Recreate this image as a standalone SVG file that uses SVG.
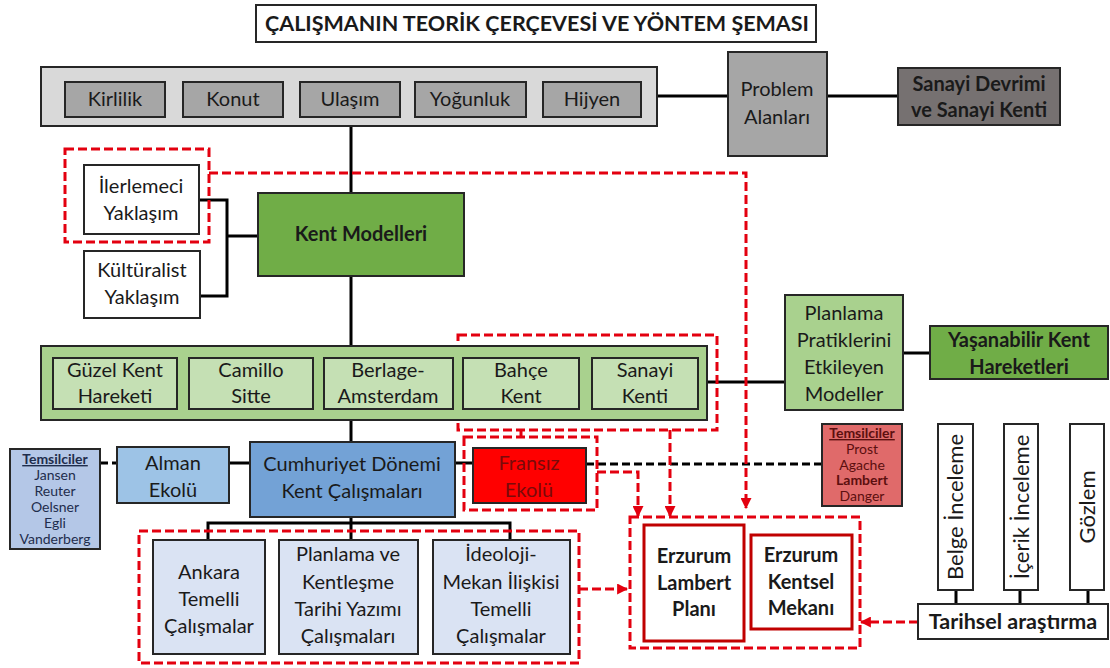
<svg xmlns="http://www.w3.org/2000/svg" width="1110" height="668" viewBox="0 0 1110 668">
<style>
text{font-family:Lato,"Open Sans","Liberation Sans",sans-serif;text-anchor:middle;fill:#1a1a1a}
.t{font-size:20px}
.v{font-size:22px}
.b{font-weight:bold}
.box{stroke:#262626;stroke-width:2}
.ln{stroke:#000;stroke-width:3;fill:none}
.bd{stroke:#000;stroke-width:3;fill:none;stroke-dasharray:8 4}
.rd{stroke:#e3000f;stroke-width:3;fill:none;stroke-dasharray:9 4}
.sm{font-size:14px}
</style>
<defs>
<marker id="ar" viewBox="0 0 10 10" refX="9" refY="5" markerWidth="11" markerHeight="11" markerUnits="userSpaceOnUse" orient="auto">
<path d="M0,0 L10,5 L0,10 z" fill="#e3000f"/>
</marker>
</defs>
<rect width="1110" height="668" fill="#fff"/>

<g id="title">
<rect x="256" y="5" width="560" height="37" fill="#fff" class="box"/>
<text x="537" y="31" class="b" style="font-size:21.5px">ÇALIŞMANIN TEORİK ÇERÇEVESİ VE YÖNTEM ŞEMASI</text>
</g>

<g id="connectors">
<path class="ln" d="M657,96 H728 M827,96 H898"/>
<path class="ln" d="M351,126 V193 M351,276 V346 M351,420 V442 M351,517 V540 M208,540 V523 H510 V540"/>
<path class="ln" d="M199,200 H227 V296 H200 M227,236 H258"/>
<path class="ln" d="M707,382 H785 M903,353 H930"/>
<path class="ln" d="M229,463 H250 M455,463 H473"/>
<path class="bd" d="M100,463 H117"/>
<path class="bd" d="M586,464 H822"/>
<path class="ln" d="M956,590 V604 M1020,590 V604 M1088,590 V604"/>
<rect class="rd" x="65" y="149" width="144" height="93"/>
<path class="rd" d="M209,173 H746 V508" marker-end="url(#ar)"/>
<rect class="rd" x="458" y="335" width="259" height="95"/>
<path class="rd" d="M521,430 V437"/>
<rect class="rd" x="464" y="437" width="133" height="73"/>
<path class="rd" d="M597,472 H638 V516" marker-end="url(#ar)"/>
<path class="rd" d="M670,430 V516" marker-end="url(#ar)"/>
<rect class="rd" x="630" y="517" width="230" height="131"/>
<rect class="rd" x="139" y="531" width="440" height="132"/>
<path class="rd" d="M579,589 H627" marker-end="url(#ar)"/>
<path class="rd" d="M918,622 H861" marker-end="url(#ar)"/>
</g>

<g id="problem-strip">
<rect x="41" y="67" width="616" height="59" fill="#d9d9d9" class="box"/>
</g>
<g id="kirlilik"><rect x="65" y="82" width="100" height="35" fill="#a6a6a6" class="box"/><text x="115" y="106" class="t">Kirlilik</text></g>
<g id="konut"><rect x="183" y="82" width="100" height="35" fill="#a6a6a6" class="box"/><text x="233" y="106" class="t">Konut</text></g>
<g id="ulasim"><rect x="300" y="82" width="100" height="35" fill="#a6a6a6" class="box"/><text x="350" y="106" class="t">Ulaşım</text></g>
<g id="yogunluk"><rect x="415" y="82" width="111" height="35" fill="#a6a6a6" class="box"/><text x="470" y="106" class="t">Yoğunluk</text></g>
<g id="hijyen"><rect x="543" y="82" width="98" height="35" fill="#a6a6a6" class="box"/><text x="592" y="106" class="t">Hijyen</text></g>

<g id="problem-alanlari"><rect x="728" y="52" width="99" height="104" fill="#a6a6a6" class="box"/><text x="777" y="96" class="t">Problem</text><text x="777" y="124" class="t">Alanları</text></g>
<g id="sanayi-devrimi"><rect x="898" y="68" width="162" height="57" fill="#767171" class="box"/><text x="979" y="91" class="t b">Sanayi Devrimi</text><text x="979" y="117" class="t b">ve Sanayi Kenti</text></g>

<g id="ilerlemeci"><rect x="84" y="165" width="115" height="69" fill="#fff" class="box"/><text x="141" y="193" class="t">İlerlemeci</text><text x="141" y="220" class="t">Yaklaşım</text></g>
<g id="kulturalist"><rect x="84" y="251" width="116" height="67" fill="#fff" class="box"/><text x="142" y="277" class="t">Kültüralist</text><text x="142" y="304" class="t">Yaklaşım</text></g>
<g id="kent-modelleri"><rect x="258" y="193" width="206" height="83" fill="#70ad47" class="box"/><text x="361" y="241" class="t b">Kent Modelleri</text></g>

<g id="model-strip"><rect x="41" y="346" width="666" height="74" fill="#a9d18e" class="box"/></g>
<g id="guzel-kent"><rect x="53" y="358" width="124" height="51" fill="#c5e0b4" class="box"/><text x="115" y="377" class="t">Güzel Kent</text><text x="115" y="403" class="t">Hareketi</text></g>
<g id="camillo"><rect x="189" y="358" width="124" height="51" fill="#c5e0b4" class="box"/><text x="251" y="377" class="t">Camillo</text><text x="251" y="403" class="t">Sitte</text></g>
<g id="berlage"><rect x="324" y="358" width="129" height="51" fill="#c5e0b4" class="box"/><text x="388" y="377" class="t">Berlage-</text><text x="388" y="403" class="t">Amsterdam</text></g>
<g id="bahce"><rect x="463" y="358" width="116" height="51" fill="#c5e0b4" class="box"/><text x="521" y="377" class="t">Bahçe</text><text x="521" y="403" class="t">Kent</text></g>
<g id="sanayi-kenti"><rect x="592" y="358" width="106" height="51" fill="#c5e0b4" class="box"/><text x="645" y="377" class="t">Sanayi</text><text x="645" y="403" class="t">Kenti</text></g>

<g id="planlama-pratikleri"><rect x="785" y="295" width="118" height="115" fill="#a9d18e" class="box"/><text x="844" y="320" class="t">Planlama</text><text x="844" y="347" class="t">Pratiklerini</text><text x="844" y="374" class="t">Etkileyen</text><text x="844" y="401" class="t">Modeller</text></g>
<g id="yasanabilir"><rect x="930" y="326" width="178" height="53" fill="#70ad47" class="box"/><text x="1019" y="347" class="t b">Yaşanabilir Kent</text><text x="1019" y="374" class="t b">Hareketleri</text></g>

<g id="temsilciler-alman"><rect x="10" y="449" width="90" height="100" fill="#b4c7e7" class="box"/>
<text x="55" y="464" class="sm b" style="fill:#1f2d4d;text-decoration:underline">Temsilciler</text>
<text x="55" y="480" class="sm" style="fill:#1f2d4d">Jansen</text>
<text x="55" y="496" class="sm" style="fill:#1f2d4d">Reuter</text>
<text x="55" y="512" class="sm" style="fill:#1f2d4d">Oelsner</text>
<text x="55" y="528" class="sm" style="fill:#1f2d4d">Egli</text>
<text x="55" y="544" class="sm" style="fill:#1f2d4d">Vanderberg</text></g>
<g id="alman-ekolu"><rect x="117" y="447" width="112" height="56" fill="#9dc3e6" class="box"/><text x="173" y="470" class="t">Alman</text><text x="173" y="497" class="t">Ekolü</text></g>
<g id="cumhuriyet"><rect x="250" y="442" width="205" height="75" fill="#73a2d6" class="box"/><text x="352" y="471" class="t">Cumhuriyet Dönemi</text><text x="352" y="498" class="t">Kent Çalışmaları</text></g>
<g id="fransiz-ekolu"><rect x="473" y="448" width="113" height="55" fill="#ff0000" class="box"/><text x="529" y="470" class="t" style="fill:#7a0a0a">Fransız</text><text x="529" y="497" class="t" style="fill:#7a0a0a">Ekolü</text></g>
<g id="temsilciler-fransiz"><rect x="822" y="424" width="80" height="82" fill="#e06a6a" class="box"/>
<text x="862" y="438" class="sm b" style="fill:#5c0f0f;text-decoration:underline">Temsilciler</text>
<text x="862" y="454" class="sm" style="fill:#5c0f0f">Prost</text>
<text x="862" y="470" class="sm" style="fill:#5c0f0f">Agache</text>
<text x="862" y="485" class="sm b" style="fill:#5c0f0f">Lambert</text>
<text x="862" y="501" class="sm" style="fill:#5c0f0f">Danger</text></g>

<g id="ankara"><rect x="153" y="540" width="112" height="114" fill="#dae3f3" class="box"/><text x="209" y="579" class="t">Ankara</text><text x="209" y="606" class="t">Temelli</text><text x="209" y="633" class="t">Çalışmalar</text></g>
<g id="planlama-kentlesme"><rect x="279" y="540" width="139" height="114" fill="#dae3f3" class="box"/><text x="348" y="561" class="t">Planlama ve</text><text x="348" y="589" class="t">Kentleşme</text><text x="348" y="616" class="t">Tarihi Yazımı</text><text x="348" y="643" class="t">Çalışmaları</text></g>
<g id="ideoloji"><rect x="433" y="540" width="137" height="114" fill="#dae3f3" class="box"/><text x="501" y="561" class="t">İdeoloji-</text><text x="501" y="589" class="t">Mekan İlişkisi</text><text x="501" y="616" class="t">Temelli</text><text x="501" y="643" class="t">Çalışmalar</text></g>

<g id="erzurum-lambert"><rect x="644" y="525" width="100" height="116" fill="#fff" stroke="#c00000" stroke-width="3"/><text x="694" y="563" class="t b">Erzurum</text><text x="694" y="590" class="t b">Lambert</text><text x="694" y="616" class="t b">Planı</text></g>
<g id="erzurum-kentsel"><rect x="751" y="535" width="101" height="94" fill="#fff" stroke="#c00000" stroke-width="3"/><text x="801" y="562" class="t b">Erzurum</text><text x="801" y="589" class="t b">Kentsel</text><text x="801" y="615" class="t b">Mekanı</text></g>

<g id="belge"><rect x="938" y="424" width="35" height="166" fill="#fff" class="box"/><text x="0" y="0" class="v" transform="translate(963,507) rotate(-90)">Belge İnceleme</text></g>
<g id="icerik"><rect x="1004" y="424" width="34" height="166" fill="#fff" class="box"/><text x="0" y="0" class="v" transform="translate(1029,507) rotate(-90)">İçerik İnceleme</text></g>
<g id="gozlem"><rect x="1070" y="424" width="34" height="166" fill="#fff" class="box"/><text x="0" y="0" class="v" transform="translate(1095,507) rotate(-90)">Gözlem</text></g>
<g id="tarihsel"><rect x="918" y="604" width="190" height="35" fill="#fff" class="box"/><text x="1013" y="629" class="b" style="font-size:21.5px">Tarihsel araştırma</text></g>
</svg>
